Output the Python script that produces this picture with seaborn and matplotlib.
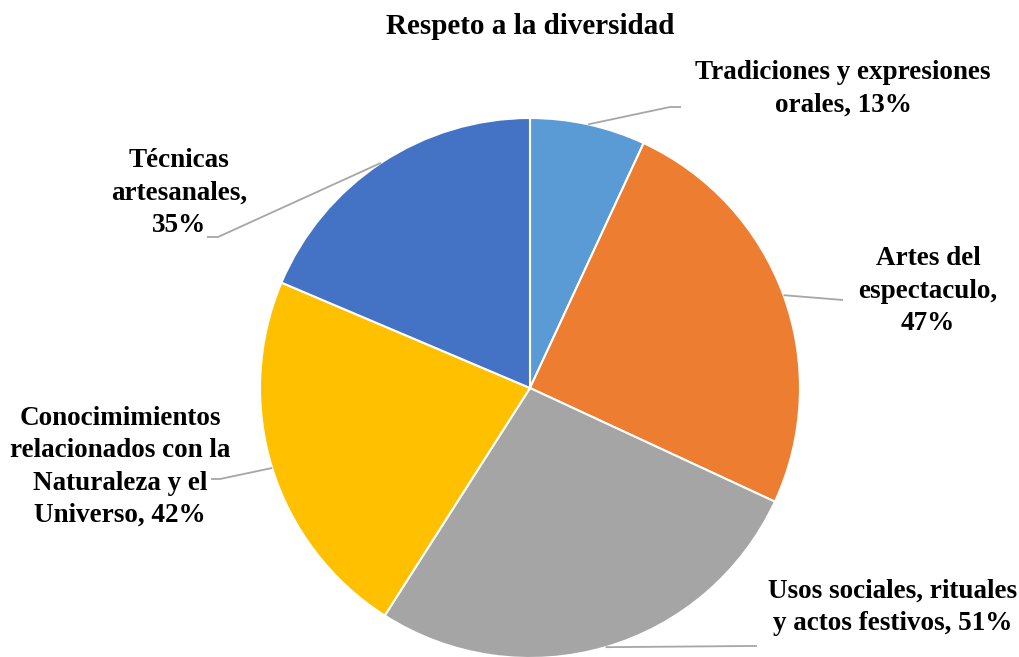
import numpy as np
import matplotlib
matplotlib.use("Agg")
import matplotlib.pyplot as plt
import seaborn as sns

sns.set_theme(style="white")
plt.rcParams["font.family"] = ["Liberation Serif", "DejaVu Serif"]

title = "Respeto a la diversidad"
categories = [
    "Tradiciones y expresiones\norales,",
    "Artes del\nespectaculo,",
    "Usos sociales, rituales\ny actos festivos,",
    "Conocimimientos\nrelacionados con la\nNaturaleza y el\nUniverso,",
    "Técnicas\nartesanales,",
]
values = [13, 47, 51, 42, 35]
colors = ["#5B9BD5", "#ED7D31", "#A5A5A5", "#FFC000", "#4472C4"]
# separator between category name and its percentage in each label
separators = [" ", "\n", " ", " ", "\n"]

label_texts = [f"{c}{s}{v}%" for c, s, v in zip(categories, separators, values)]

W, H = 1019, 657
fig = plt.figure(figsize=(W / 100, H / 100), dpi=100)
ax = fig.add_axes([0, 0, 1, 1])

cx, cy, r = 530, H - 388, 270
wedges, _ = ax.pie(
    values,
    colors=colors,
    startangle=90,
    counterclock=False,
    center=(cx, cy),
    radius=r,
    wedgeprops=dict(edgecolor="white", linewidth=1.5),
    frame=True,
)
ax.set_xlim(0, W)
ax.set_ylim(0, H)
ax.set_aspect("equal")
ax.axis("off")

# label centre and leader-line elbow / end, in pixel layout
label_pos = [(843, 89), (928, 291), (893, 607), (120, 467), (179, 193)]
leader_pts = [
    [(670, 107), (681, 107)],
    [(843, 300)],
    [(750, 646), (757, 646)],
    [(220, 479), (211, 479)],
    [(218, 237), (207, 237)],
]

for w, txt, (lx, ly), pts in zip(wedges, label_texts, label_pos, leader_pts):
    mid = np.deg2rad((w.theta1 + w.theta2) / 2)
    sx, sy = cx + r * np.cos(mid), cy + r * np.sin(mid)
    xs = [sx] + [p[0] for p in pts]
    ys = [sy] + [H - p[1] for p in pts]
    ax.plot(xs, ys, color="#A6A6A6", lw=1.3, solid_capstyle="butt", clip_on=False)
    ax.text(lx, H - ly, txt, ha="center", va="center", fontsize=19.5,
            fontweight="bold", linespacing=1.38, color="black")

ax.text(530, H - 27, title, ha="center", va="center", fontsize=21,
        fontweight="bold", color="black")

fig.savefig("out.png", dpi=100, facecolor="white")
